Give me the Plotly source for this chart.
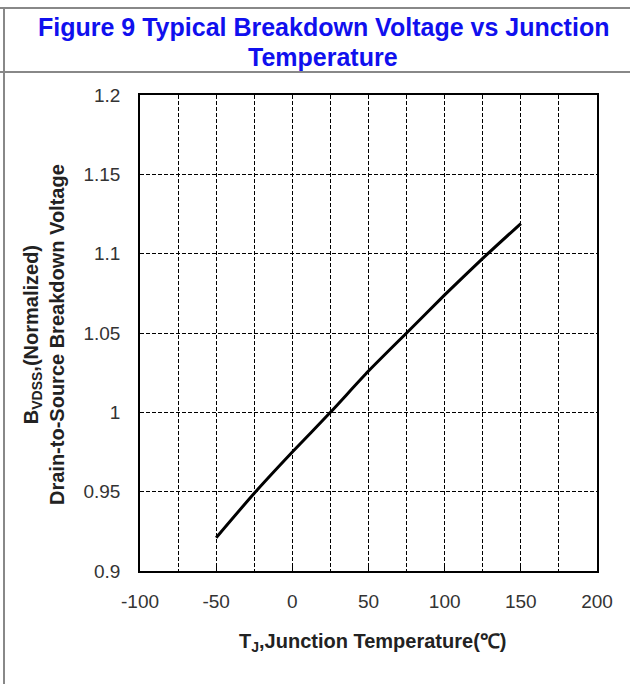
import plotly.graph_objects as go

# Data
temp_c = [-50, -25, 0, 25, 50, 75, 100, 125, 150]
bvdss_norm = [0.921, 0.949, 0.975, 1.000, 1.026, 1.050, 1.074, 1.097, 1.119]

x_tickvals = [-100, -50, 0, 50, 100, 150, 200]
x_ticktext = ["-100", "-50", "0", "50", "100", "150", "200"]
y_tickvals = [0.9, 0.95, 1.0, 1.05, 1.1, 1.15, 1.2]
y_ticktext = ["0.9", "0.95", "1", "1.05", "1.1", "1.15", "1.2"]

title_line1 = "Figure 9 Typical Breakdown Voltage vs Junction"
title_line2 = "Temperature"
y_title = "B<sub>VDSS</sub>,(Normalized)<br>Drain-to-Source Breakdown Voltage"
x_title = "T<sub>J</sub>,Junction Temperature(\u2103)"

FONT = "Liberation Sans, Arial, sans-serif"
W, H = 630, 684
L, R, T, B = 140, 33, 95, 113
PW, PH = W - L - R, H - T - B


def px(xp):
    return (xp - L) / PW


def py(yp):
    return (H - B - yp) / PH


fig = go.Figure()
fig.add_trace(go.Scatter(
    x=temp_c, y=bvdss_norm, mode="lines",
    line=dict(color="black", width=3, shape="spline", smoothing=0.6),
    showlegend=False, hoverinfo="skip",
))

grid = dict(showgrid=True, gridcolor="#000", gridwidth=1.2, griddash="4px,2px")

fig.update_xaxes(
    range=[-100, 200], tickvals=x_tickvals, ticktext=x_ticktext,
    ticks="inside", ticklen=5, tickcolor="black",
    tickfont=dict(family=FONT, size=19, color="#333"),
    ticklabelstandoff=12,
    showline=True, linecolor="black", linewidth=1.5, mirror=True,
    zeroline=False,
    minor=dict(dtick=25, tick0=-100, showgrid=True, gridcolor="#000",
               gridwidth=1.2, griddash="4px,2px", ticks=""),
    **grid,
)
fig.update_yaxes(
    range=[0.9, 1.2], tickvals=y_tickvals, ticktext=y_ticktext,
    ticks="", tickfont=dict(family=FONT, size=19, color="#333"),
    ticklabelstandoff=14,
    showline=True, linecolor="black", linewidth=1.5, mirror=True,
    zeroline=False,
    **grid,
)

annotations = [
    dict(text="<b>" + title_line1 + "</b>", x=px(323), y=py(27),
         font=dict(family=FONT, size=25, color="#1010ee")),
    dict(text="<b>" + title_line2 + "</b>", x=px(323), y=py(57),
         font=dict(family=FONT, size=25, color="#1010ee")),
    dict(text="<b>" + y_title + "</b>", x=px(44), y=py(335), textangle=-90,
         font=dict(family=FONT, size=20, color="#222")),
    dict(text="<b>" + x_title + "</b>", x=px(372), y=py(642),
         font=dict(family=FONT, size=20, color="#222")),
]
for a in annotations:
    a.update(xref="paper", yref="paper", showarrow=False,
             xanchor="center", yanchor="middle")

frame = dict(color="#888", width=2)
shapes = [
    dict(type="line", xref="paper", yref="paper",
         x0=px(0), x1=px(W), y0=py(8), y1=py(8), line=frame),
    dict(type="line", xref="paper", yref="paper",
         x0=px(0), x1=px(W), y0=py(72), y1=py(72), line=frame),
    dict(type="line", xref="paper", yref="paper",
         x0=px(4), x1=px(4), y0=py(8), y1=py(H), line=frame),
]

fig.update_layout(
    width=W, height=H, margin=dict(l=L, r=R, t=T, b=B, autoexpand=False),
    paper_bgcolor="white", plot_bgcolor="white",
    annotations=annotations, shapes=shapes,
)

fig.write_html(
    "out.html",
    config={"displayModeBar": False},
    post_script="document.body.style.margin='0';document.body.style.overflow='hidden';",
)
